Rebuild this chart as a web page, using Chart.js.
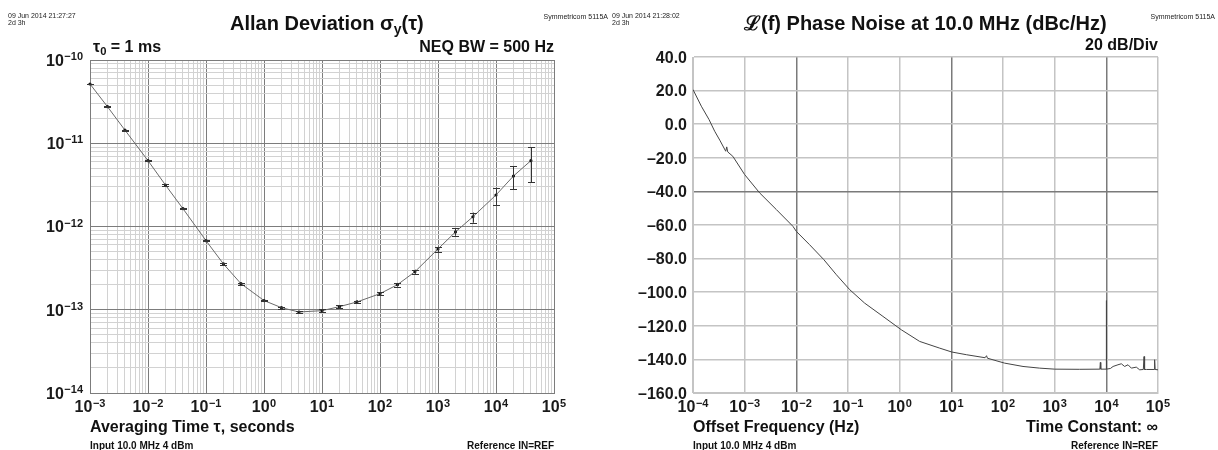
<!DOCTYPE html>
<html>
<head>
<meta charset="utf-8">
<script src="https://cdn.jsdelivr.net/npm/chart.js@4.4.1/dist/chart.umd.min.js"></script>
<style>
  html, body { margin:0; padding:0; background:#fff; width:1218px; height:450px; overflow:hidden; }
  body { position:relative; font-family:"Liberation Sans", Arial, Helvetica, sans-serif; color:#111; }
  .pane { position:absolute; top:0; width:609px; height:450px; }
  canvas { position:absolute; left:0; top:0; }
  .t { position:absolute; white-space:nowrap; line-height:1; }
  .title { font-size:20px; font-weight:bold; }
  .lab { font-size:16px; font-weight:bold; }
  .tiny { font-size:7px; line-height:7px; color:#222; }
  .foot { font-size:10px; font-weight:bold; }
  sub { font-size:0.7em; vertical-align:-0.25em; line-height:0; }
</style>
</head>
<body>
<div class="pane" id="paneL" style="left:0">
  <canvas id="adev" width="609" height="450" style="width:609px;height:450px"></canvas>
</div>
<div class="pane" id="paneR" style="left:609px">
  <canvas id="pn" width="609" height="450" style="width:609px;height:450px"></canvas>
</div>

<!-- Left texts -->
<div class="t tiny" style="left:8px;top:12px">09 Jun 2014 21:27:27<br>2d 3h</div>
<div class="t tiny" style="right:610px;top:13px">Symmetricom 5115A</div>
<div class="t title" style="left:230px;top:13px">Allan Deviation σ<sub>y</sub>(τ)</div>
<div class="t lab" style="left:93px;top:39px">τ<sub>0</sub> = 1 ms</div>
<div class="t lab" style="right:664px;top:39px">NEQ BW = 500 Hz</div>
<div class="t lab" style="left:90px;top:419px">Averaging Time τ, seconds</div>
<div class="t foot" style="left:90px;top:441px">Input 10.0 MHz 4 dBm</div>
<div class="t foot" style="right:664px;top:441px">Reference IN=REF</div>

<!-- Right texts -->
<div class="t tiny" style="left:612px;top:12px">09 Jun 2014 21:28:02<br>2d 3h</div>
<div class="t tiny" style="right:3px;top:13px">Symmetricom 5115A</div>
<div class="t title" style="left:744px;top:13px">ℒ(f) Phase Noise at 10.0 MHz (dBc/Hz)</div>
<div class="t lab" style="right:60px;top:37px">20 dB/Div</div>
<div class="t lab" style="left:693px;top:419px">Offset Frequency (Hz)</div>
<div class="t lab" style="right:60px;top:419px">Time Constant: ∞</div>
<div class="t foot" style="left:693px;top:441px">Input 10.0 MHz 4 dBm</div>
<div class="t foot" style="right:60px;top:441px">Reference IN=REF</div>

<script>
// ---------- Allan deviation data ----------
const adevTau   = [1e-3, 2e-3, 4e-3, 1e-2, 2e-2, 4e-2, 0.1, 0.2, 0.4, 1, 2, 4, 10, 20, 40, 100, 200, 400, 1e3, 2e3, 4e3, 1e4, 2e4, 4e4];
const adevSigma = [5.15e-11, 2.75e-11, 1.44e-11, 6.18e-12, 3.15e-12, 1.64e-12, 6.76e-13, 3.55e-13, 2.06e-13, 1.29e-13, 1.06e-13, 9.4e-14,
                   9.75e-14, 1.09e-13, 1.24e-13, 1.56e-13, 2.0e-13, 2.86e-13, 5.37e-13, 8.6e-13, 1.31e-12, 2.39e-12, 4.04e-12, 6.18e-12];
const adevLow   = [5.08e-11, 2.71e-11, 1.42e-11, 6.09e-12, 3.10e-12, 1.61e-12, 6.62e-13, 3.47e-13, 2.01e-13, 1.26e-13, 1.03e-13, 9.1e-14,
                   9.4e-14, 1.05e-13, 1.19e-13, 1.49e-13, 1.90e-13, 2.70e-13, 4.9e-13, 7.75e-13, 1.11e-12, 1.81e-12, 2.82e-12, 3.42e-12];
const adevHigh  = [5.22e-11, 2.79e-11, 1.46e-11, 6.27e-12, 3.20e-12, 1.67e-12, 6.90e-13, 3.63e-13, 2.11e-13, 1.32e-13, 1.09e-13, 9.7e-14,
                   1.01e-13, 1.13e-13, 1.29e-13, 1.63e-13, 2.10e-13, 3.03e-13, 5.72e-13, 9.5e-13, 1.47e-12, 2.92e-12, 5.33e-12, 8.93e-12];
const adevXTicks  = [1e-3, 1e-2, 1e-1, 1, 10, 100, 1e3, 1e4, 1e5];
const adevXLabels = [['10','−3'],['10','−2'],['10','−1'],['10','0'],['10','1'],['10','2'],['10','3'],['10','4'],['10','5']];
const adevYTicks  = [1e-14, 1e-13, 1e-12, 1e-11, 1e-10];
const adevYLabels = [['10','−14'],['10','−13'],['10','−12'],['10','−11'],['10','−10']];

// ---------- Phase noise data ----------
const pnFreq = [1e-4, 1.45e-4, 2.04e-4, 2.63e-4, 3.3e-4, 4.3e-4, 4.5e-4, 4.7e-4, 5.9e-4, 1e-3, 1.95e-3, 4.1e-3, 8.6e-3, 1e-2,
                1.8e-2, 3.4e-2, 5.96e-2, 0.108, 0.21, 0.475, 1.08, 2.44, 5.96, 10.2, 19.5, 45, 48, 50, 107, 244, 513, 1000,
                3000, 7500, 7.66e3, 7.8e3, 9.9e3, 1e4, 1.01e4, 1.2e4, 1.35e4, 1.68e4, 1.95e4, 2.26e4, 2.63e4, 3.05e4, 3.8e4,
                4.42e4, 5.2e4, 5.37e4, 5.5e4, 5.96e4, 8.4e4, 8.6e4, 8.8e4, 1e5];
const pnDb   = [20.6, 10.7, 2.8, -4.2, -9.5, -16.1, -13.5, -16.5, -19.1, -30.0, -40.9, -50.8, -60.8, -63.8,
                -71.7, -80.6, -89.6, -98.5, -106.5, -114.4, -122.4, -129.3, -133.3, -135.6, -137.2, -139.0, -137.8, -139.3, -142.2, -144.2, -145.2, -145.8,
                -145.9, -145.8, -141.8, -145.8, -145.8, -105, -145.8, -145.4, -144.2, -143.2, -142.6, -144.2, -143.2, -145.2, -144.6,
                -146.2, -146.0, -138.3, -146.0, -146.0, -146.0, -140.2, -146.0, -146.2];
const pnXTicks  = [1e-4, 1e-3, 1e-2, 1e-1, 1, 10, 100, 1e3, 1e4, 1e5];
const pnXLabels = [['10','−4'],['10','−3'],['10','−2'],['10','−1'],['10','0'],['10','1'],['10','2'],['10','3'],['10','4'],['10','5']];
const pnYTicks  = [-160, -140, -120, -100, -80, -60, -40, -20, 0, 20, 40];
const pnYLabels = ['–160.0','–140.0','–120.0','–100.0','–80.0','–60.0','–40.0','–20.0','0.0','20.0','40.0'];
const pnDarkX   = [1e-2, 10, 1e4];
const pnDarkY   = [-40];

// ---------- helpers ----------
const FONT = '"Liberation Sans", Arial, Helvetica, sans-serif';
const BASE_FONT = 'bold 16px ' + FONT;
const EXP_FONT = 'bold 11px ' + FONT;
const near = (a, b) => Math.abs(Math.log10(a) - Math.log10(b)) < 1e-6;
function logGridValues(majors) {
  const out = [];
  for (let i = 0; i < majors.length; i++) {
    out.push(majors[i]);
    if (i < majors.length - 1) for (let m = 2; m <= 9; m++) out.push(majors[i] * m);
  }
  return out;
}
// draws "10" with a raised exponent; y is the vertical centre of the "10"
function drawPow(ctx, x, y, pair, align) {
  ctx.font = BASE_FONT;
  const wb = ctx.measureText(pair[0]).width;
  ctx.font = EXP_FONT;
  const we = ctx.measureText(pair[1]).width;
  const total = wb + 0.5 + we;
  const start = align === 'right' ? x - total : x - total / 2;
  const base = y + 5.8;
  ctx.textAlign = 'left';
  ctx.textBaseline = 'alphabetic';
  ctx.font = BASE_FONT;
  ctx.fillText(pair[0], start, base);
  ctx.font = EXP_FONT;
  ctx.fillText(pair[1], start + wb + 0.5, base - 5.6);
}

const tickLabels = {
  id: 'tickLabels',
  afterDraw(chart) {
    const ctx = chart.ctx, xs = chart.scales.x, ys = chart.scales.y, area = chart.chartArea;
    ctx.save();
    ctx.fillStyle = '#1a1a1a';
    const cfg = chart.options.plugins.tickLabels;
    cfg.xTicks.forEach((v, i) => drawPow(ctx, xs.getPixelForValue(v), area.bottom + 13.5, cfg.xLabels[i], 'center'));
    cfg.yTicks.forEach((v, i) => {
      const y = ys.getPixelForValue(v);
      const lab = cfg.yLabels[i];
      if (Array.isArray(lab)) {
        drawPow(ctx, area.left - cfg.yGap, y, lab, 'right');
      } else {
        ctx.font = BASE_FONT;
        ctx.textAlign = 'right';
        ctx.textBaseline = 'alphabetic';
        ctx.fillText(lab, area.left - cfg.yGap, y + 5.8);
      }
    });
    ctx.restore();
  }
};

const errorBars = {
  id: 'errorBars',
  afterDatasetsDraw(chart) {
    if (chart.canvas.id !== 'adev') return;
    const xs = chart.scales.x, ys = chart.scales.y, ctx = chart.ctx;
    ctx.save();
    ctx.strokeStyle = '#333';
    ctx.lineWidth = 1;
    for (let i = 0; i < adevTau.length; i++) {
      const x = Math.round(xs.getPixelForValue(adevTau[i])) + 0.5;
      const y1 = ys.getPixelForValue(adevLow[i]);
      const y2 = ys.getPixelForValue(adevHigh[i]);
      ctx.beginPath();
      ctx.moveTo(x, y1); ctx.lineTo(x, y2);
      ctx.moveTo(x - 3.5, Math.round(y1) + 0.5); ctx.lineTo(x + 3.5, Math.round(y1) + 0.5);
      ctx.moveTo(x - 3.5, Math.round(y2) + 0.5); ctx.lineTo(x + 3.5, Math.round(y2) + 0.5);
      ctx.stroke();
    }
    ctx.restore();
  }
};

// ---------- Allan deviation chart ----------
const adevGridX = logGridValues(adevXTicks);
const adevGridY = logGridValues(adevYTicks);
new Chart(document.getElementById('adev'), {
  type: 'line',
  data: {
    datasets: [{
      label: 'Allan deviation',
      data: adevTau.map((t, i) => ({ x: t, y: adevSigma[i] })),
      borderColor: '#6a6a6a',
      borderWidth: 1,
      pointRadius: 1.6,
      pointBackgroundColor: '#111',
      pointBorderWidth: 0,
      tension: 0,
      clip: false
    }]
  },
  options: {
    responsive: false,
    animation: false,
    devicePixelRatio: 1,
    layout: { padding: { left: 0, right: 55, top: 60, bottom: 0 } },
    plugins: {
      legend: { display: false }, tooltip: { enabled: false },
      tickLabels: { xTicks: adevXTicks, xLabels: adevXLabels, yTicks: adevYTicks, yLabels: adevYLabels, yGap: 7 }
    },
    scales: {
      x: {
        type: 'logarithmic', min: 1e-3, max: 1e5,
        afterBuildTicks: s => { s.ticks = adevGridX.map(v => ({ value: v })); },
        afterFit: s => { s.height = 57; },
        ticks: { display: false, autoSkip: false },
        grid: { drawTicks: false, lineWidth: 1,
                color: c => (c.tick && adevXTicks.some(m => near(c.tick.value, m))) ? '#7c7c7c' : '#d2d2d2' },
        border: { display: true, color: '#7c7c7c' }
      },
      y: {
        type: 'logarithmic', min: 1e-14, max: 1e-10,
        afterBuildTicks: s => { s.ticks = adevGridY.map(v => ({ value: v })); },
        afterFit: s => { s.width = 90; },
        ticks: { display: false, autoSkip: false },
        grid: { drawTicks: false, lineWidth: 1,
                color: c => (c.tick && adevYTicks.some(m => near(c.tick.value, m))) ? '#7c7c7c' : '#d2d2d2' },
        border: { display: true, color: '#7c7c7c' }
      }
    }
  },
  plugins: [errorBars, tickLabels]
});

// ---------- Phase noise chart ----------
new Chart(document.getElementById('pn'), {
  type: 'line',
  data: {
    datasets: [{
      label: 'L(f)',
      data: pnFreq.map((f, i) => ({ x: f, y: pnDb[i] })),
      borderColor: '#444',
      borderWidth: 1,
      pointRadius: 0,
      tension: 0
    }]
  },
  options: {
    responsive: false,
    animation: false,
    devicePixelRatio: 1,
    layout: { padding: { left: 0, right: 60, top: 57, bottom: 0 } },
    plugins: {
      legend: { display: false }, tooltip: { enabled: false },
      tickLabels: { xTicks: pnXTicks, xLabels: pnXLabels, yTicks: pnYTicks, yLabels: pnYLabels, yGap: 6 }
    },
    scales: {
      x: {
        type: 'logarithmic', min: 1e-4, max: 1e5,
        afterBuildTicks: s => { s.ticks = pnXTicks.map(v => ({ value: v })); },
        afterFit: s => { s.height = 57; },
        ticks: { display: false, autoSkip: false },
        grid: { drawTicks: false, lineWidth: 1.5,
                color: c => (c.tick && pnDarkX.some(m => near(c.tick.value, m))) ? '#7a7a7a' : '#c4c4c4' },
        border: { display: true, color: '#c4c4c4' }
      },
      y: {
        type: 'linear', min: -160, max: 40,
        afterBuildTicks: s => { s.ticks = pnYTicks.map(v => ({ value: v })); },
        afterFit: s => { s.width = 84; },
        ticks: { display: false, autoSkip: false },
        grid: { drawTicks: false, lineWidth: 1.5,
                color: c => (c.tick && pnDarkY.includes(c.tick.value)) ? '#7a7a7a' : '#c4c4c4' },
        border: { display: true, color: '#c4c4c4' }
      }
    }
  },
  plugins: [tickLabels]
});
</script>
</body>
</html>
